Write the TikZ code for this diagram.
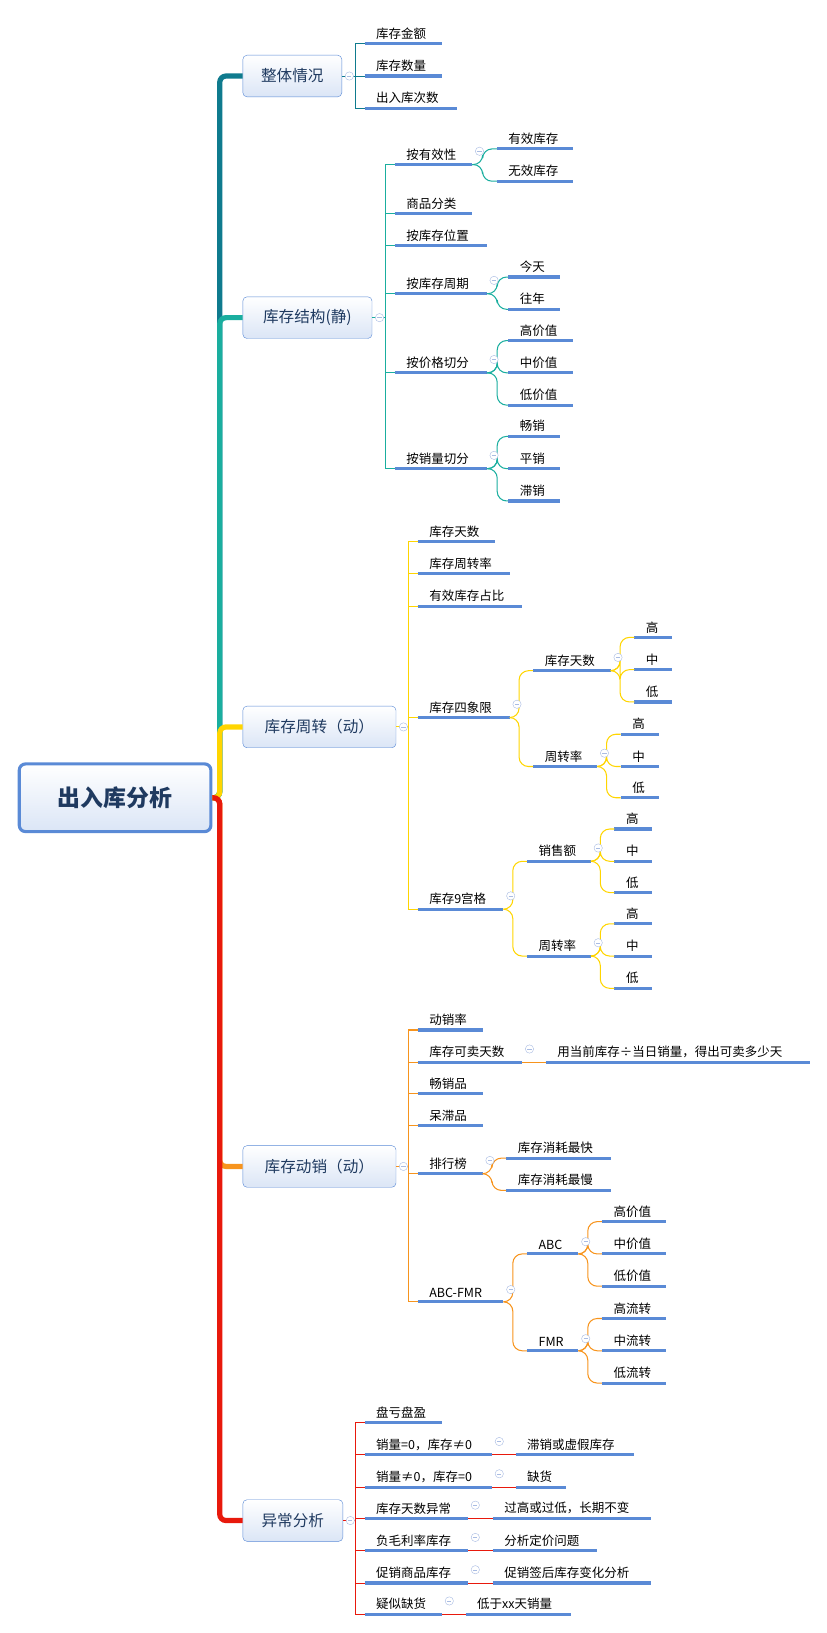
\documentclass[tikz,border=0pt]{standalone}
\usepackage{fontspec}
\setmainfont{Noto Sans CJK SC}
\usepackage{tikz}
\usetikzlibrary{positioning}
\definecolor{cA}{HTML}{0F7B8E}
\definecolor{cB}{HTML}{1AAE9F}
\definecolor{cC}{HTML}{FFD500}
\definecolor{cD}{HTML}{F7941D}
\definecolor{cE}{HTML}{E8190C}
\definecolor{ublue}{HTML}{5A8AD6}
\definecolor{foldc}{HTML}{A9BCE3}
\definecolor{ttext}{HTML}{1F3A60}

\begin{document}
\begin{tikzpicture}[
	x=1pt, y=-1pt,
	root/.style={
		draw=ublue, line width=3pt, rectangle, rounded corners=6pt,
		top color=white, bottom color=ublue!22, anchor=west,
		minimum width=184pt, minimum height=65pt,
		font=\fontsize{22}{26}\selectfont\bfseries, text=ttext
	},
	topic/.style={
		draw=ublue, rectangle, rounded corners=4pt,
		top color=white, bottom color=ublue!22, anchor=west,
		minimum width=#1, minimum height=40pt,
		font=\fontsize{15}{18}\selectfont, text=ttext
	},
	leaf/.style={
		anchor=south west, text width=#1, align=left,
		inner xsep=11pt, inner ysep=4pt,
		font=\fontsize{12}{14}\selectfont,
		append after command={(\tikzlastnode.south west) edge[uline] (\tikzlastnode.south east)}
	},
	uline/.style={draw=ublue, line width=3pt},
	link/.style={draw=#1, line width=1pt},
	bend/.style={link=#1, rounded corners=9pt},
	trunk/.style={draw=#1, line width=5pt, rounded corners=6pt},
	fold/.style={
		circle, draw=foldc, fill=white, inner sep=0pt, minimum size=8pt,
		path picture={\draw[foldc] ([xshift=-2pt]path picture bounding box.center) -- ([xshift=2pt]path picture bounding box.center);}
	}
	]
	\useasboundingbox (0,0) rectangle (794,1568);

	% Root
	\node[root] (root) at (17,766) {出入库分析};

	% Main topics
	\node[topic=95pt] (A) at (233,73) {整体情况};
	\node[topic=124pt] (B) at (233,305) {库存结构(静)};
	\node[topic=147pt] (C) at (233,698) {库存周转（动）};
	\node[topic=147pt] (D) at (233,1120) {库存动销（动）};
	\node[topic=96pt] (E) at (233,1460) {异常分析};

	% Overall
	\node[leaf=52pt] (a1) at (350,42) {库存金额};
	\node[leaf=52pt] (a2) at (350,73) {库存数量};
	\node[leaf=66pt] (a3) at (350,104) {出入库次数};

	% Structure
	\node[leaf=52pt] (b1) at (379,158) {按有效性};
	\node[leaf=51pt] (b11) at (477,143) {有效库存};
	\node[leaf=51pt] (b12) at (477,174) {无效库存};
	\node[leaf=52pt] (b2) at (379,205) {商品分类};
	\node[leaf=66pt] (b3) at (379,236) {按库存位置};
	\node[leaf=66pt] (b4) at (379,282) {按库存周期};
	\node[leaf=27pt] (b41) at (488,266) {今天};
	\node[leaf=27pt] (b42) at (488,297) {往年};
	\node[leaf=66pt] (b5) at (379,358) {按价格切分};
	\node[leaf=40pt] (b51) at (488,327) {高价值};
	\node[leaf=40pt] (b52) at (488,358) {中价值};
	\node[leaf=40pt] (b53) at (488,389) {低价值};
	\node[leaf=66pt] (b6) at (379,450) {按销量切分};
	\node[leaf=27pt] (b61) at (488,419) {畅销};
	\node[leaf=27pt] (b62) at (488,450) {平销};
	\node[leaf=27pt] (b63) at (488,481) {滞销};

	% Turnover
	\node[leaf=52pt] (c1) at (401,520) {库存天数};
	\node[leaf=66pt] (c2) at (401,551) {库存周转率};
	\node[leaf=78pt] (c3) at (401,582) {有效库存占比};
	\node[leaf=66pt] (c4) at (401,689) {库存四象限};
	\node[leaf=52pt] (c41) at (512,644) {库存天数};
	\node[leaf=14pt] (c411) at (609,612) {高};
	\node[leaf=14pt] (c412) at (609,643) {中};
	\node[leaf=14pt] (c413) at (609,674) {低};
	\node[leaf=39pt] (c42) at (512,736) {周转率};
	\node[leaf=14pt] (c421) at (596,705) {高};
	\node[leaf=14pt] (c422) at (596,736) {中};
	\node[leaf=14pt] (c423) at (596,766) {低};
	\node[leaf=60pt] (c5) at (401,873) {库存9宫格};
	\node[leaf=39pt] (c51) at (506,827) {销售额};
	\node[leaf=14pt] (c511) at (590,796) {高};
	\node[leaf=14pt] (c512) at (590,827) {中};
	\node[leaf=14pt] (c513) at (590,857) {低};
	\node[leaf=39pt] (c52) at (506,918) {周转率};
	\node[leaf=14pt] (c521) at (590,887) {高};
	\node[leaf=14pt] (c522) at (590,918) {中};
	\node[leaf=14pt] (c523) at (590,949) {低};

	% Sell-through
	\node[leaf=40pt] (d1) at (401,989) {动销率};
	\node[leaf=78pt] (d2) at (401,1020) {库存可卖天数};
	\node[leaf=231pt] (d21) at (524,1020) {用当前库存÷当日销量，得出可卖多少天};
	\node[leaf=40pt] (d3) at (401,1050) {畅销品};
	\node[leaf=40pt] (d4) at (401,1081) {呆滞品};
	\node[leaf=40pt] (d5) at (401,1127) {排行榜};
	\node[leaf=78pt] (d51) at (486,1112) {库存消耗最快};
	\node[leaf=78pt] (d52) at (486,1143) {库存消耗最慢};
	\node[leaf=60pt] (d6) at (401,1250) {ABC-FMR};
	\node[leaf=27pt] (d61) at (506,1204) {ABC};
	\node[leaf=39pt] (d611) at (578,1173) {高价值};
	\node[leaf=39pt] (d612) at (578,1204) {中价值};
	\node[leaf=39pt] (d613) at (578,1235) {低价值};
	\node[leaf=27pt] (d62) at (506,1297) {FMR};
	\node[leaf=39pt] (d621) at (578,1266) {高流转};
	\node[leaf=39pt] (d622) at (578,1297) {中流转};
	\node[leaf=39pt] (d623) at (578,1328) {低流转};

	% Exceptions
	\node[leaf=52pt] (e1) at (350,1366) {盘亏盘盈};
	\node[leaf=100pt] (e2) at (350,1397) {销量=0，库存≠0};
	\node[leaf=91pt] (e21) at (495,1397) {滞销或虚假库存};
	\node[leaf=100pt] (e3) at (350,1428) {销量≠0，库存=0};
	\node[leaf=26pt] (e31) at (495,1428) {缺货};
	\node[leaf=77pt] (e4) at (350,1458) {库存天数异常};
	\node[leaf=130pt] (e41) at (473,1458) {过高或过低，长期不变};
	\node[leaf=77pt] (e5) at (350,1489) {负毛利率库存};
	\node[leaf=78pt] (e51) at (473,1489) {分析定价问题};
	\node[leaf=77pt] (e6) at (350,1520) {促销商品库存};
	\node[leaf=130pt] (e61) at (473,1520) {促销签后库存变化分析};
	\node[leaf=52pt] (e7) at (350,1550) {疑似缺货};
	\node[leaf=79pt] (e71) at (447,1550) {低于xx天销量};

	% Trunk
	\draw[trunk=cA] (root.east) -- ++(7,0) |- (A.west);
	\draw[trunk=cB] (root.east) -- ++(7,0) |- (B.west);
	\draw[trunk=cC] (root.east) -- ++(7,0) |- (C.west);
	\draw[trunk=cD] (root.east) -- ++(7,0) |- (D.west);
	\draw[trunk=cE] (root.east) -- ++(7,0) |- (E.west);

	% Branches
	\foreach \n in {a1,a2,a3}
		\draw[link=cA] (A.east) -- ++(13,0) |- (\n.south west);
	\foreach \n in {b1,b2,b3,b4,b5,b6}
		\draw[link=cB] (B.east) -- ++(13,0) |- (\n.south west);
	\foreach \n in {c1,c2,c3,c4,c5}
		\draw[link=cC] (C.east) -- ++(12,0) |- (\n.south west);
	\foreach \n in {d1,d2,d3,d4,d5,d6}
		\draw[link=cD] (D.east) -- ++(12,0) |- (\n.south west);
	\foreach \n in {e1,e2,e3,e4,e5,e6,e7}
		\draw[link=cE] (E.east) -- ++(12,0) |- (\n.south west);

	\foreach \p/\c in {b1/b11,b1/b12,b4/b41,b4/b42,b5/b51,b5/b52,b5/b53,b6/b61,b6/b62,b6/b63}
		\draw[bend=cB] (\p.south east) -- ++(10,0) |- (\c.south west);
	\foreach \p/\c in {c4/c41,c4/c42,c41/c411,c41/c412,c41/c413,c42/c421,c42/c422,c42/c423,
		c5/c51,c5/c52,c51/c511,c51/c512,c51/c513,c52/c521,c52/c522,c52/c523}
		\draw[bend=cC] (\p.south east) -- ++(9,0) |- (\c.south west);
	\foreach \p/\c in {d5/d51,d5/d52,d6/d61,d6/d62,d61/d611,d61/d612,d61/d613,d62/d621,d62/d622,d62/d623}
		\draw[bend=cD] (\p.south east) -- ++(9,0) |- (\c.south west);
	\draw[link=cD] (d2.south east) -- (d21.south west);
	\foreach \p/\c in {e2/e21,e3/e31,e4/e41,e5/e51,e6/e61,e7/e71}
		\draw[link=cE] (\p.south east) -- (\c.south west);

	% Fold marks
	\foreach \n in {A,B,C,D,E}
		\node[fold] at ([xshift=7pt]\n.east) {};
	\foreach \n in {b1,b4,b5,b6,c4,c41,c42,c5,c51,c52,d2,d5,d6,d61,d62,e2,e3,e4,e5,e6,e7}
		\node[fold] at ([xshift=7pt,yshift=3pt]\n.east) {};

\end{tikzpicture}
\end{document}
